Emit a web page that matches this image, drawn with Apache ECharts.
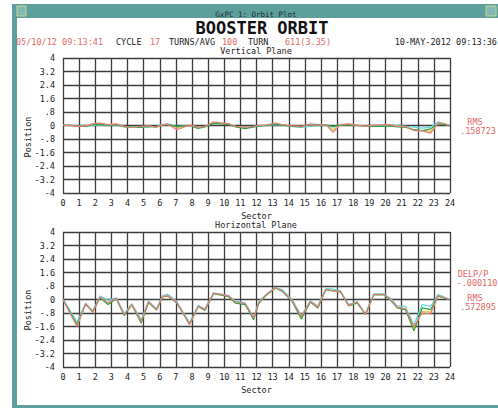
<!DOCTYPE html>
<html>
<head>
<meta charset="utf-8">
<script src="https://cdn.jsdelivr.net/npm/echarts@6/dist/echarts.min.js"></script>
<style>
  html, body { margin: 0; padding: 0; background: #fff; }
  #chart { width: 498px; height: 408px; }
</style>
</head>
<body>
<div id="chart"></div>
<script>
// BPM positions along the ring (sector units)
const sectors = [0, 0.4, 0.87, 1.4, 1.84, 2.3, 2.8, 3.3, 3.8, 4.27, 4.85, 5.3, 5.8, 6.17, 6.5, 7.05, 7.85, 8.38, 8.8, 9.34,
  9.8, 10.25, 10.7, 11.3, 11.82, 12.13, 12.55, 13.17, 13.6, 14.2, 14.78, 15.34, 15.8, 16.3, 16.75, 17.2, 17.72, 18.24, 18.76, 19.27,
  19.9, 20.3, 20.73, 21.24, 21.76, 22.28, 22.8, 23.27, 23.62, 23.95];

// vertical plane traces
const vertRed = [0, 0.02, -0.05, -0.02, 0.1, 0.15, 0.05, 0.1, -0.05, -0.12, -0.05, -0.02, -0.1, 0.05, 0.08, -0.25, 0.02, -0.1, -0.05, 0.22,
  0.15, 0.12, -0.05, -0.1, -0.05, 0, 0.02, 0.15, 0.05, -0.02, -0.05, 0.05, 0.02, 0.05, -0.4, 0.05, 0.1, 0.02, -0.05, 0.02,
  0.05, 0.05, -0.05, -0.05, -0.3, -0.32, -0.45, 0.15, 0.12, 0];
const vertGreen = [0.02, 0, -0.02, -0.05, 0.05, 0.05, 0.02, 0.05, -0.08, -0.1, -0.12, -0.05, -0.08, 0.02, 0.05, -0.05, 0, -0.18, -0.08, 0.12,
  0.1, 0.08, -0.08, -0.18, -0.08, -0.02, 0, 0.1, 0.02, -0.05, -0.08, 0.08, 0.05, 0.02, -0.05, 0.02, 0.05, 0, -0.02, -0.05,
  -0.05, -0.02, -0.08, -0.1, -0.25, -0.3, -0.2, 0.1, 0.08, -0.02];
const vertCyan = [0.02, 0.03, 0, -0.05, 0.02, 0, 0.02, 0.03, -0.05, -0.1, -0.08, -0.1, -0.05, 0.05, 0.1, -0.05, 0, -0.08, -0.05, 0.12,
  0.12, 0.1, -0.05, -0.1, -0.08, -0.05, -0.02, 0.05, 0.02, -0.05, -0.1, -0.05, -0.02, 0.03, -0.1, 0.05, 0.05, 0, -0.05, 0,
  0.02, 0.05, 0, -0.05, -0.1, -0.15, -0.1, 0.22, 0.12, 0.02];
const vertYellow = [0, 0.02, -0.03, -0.03, 0.08, 0.1, 0.04, 0.08, -0.06, -0.1, -0.08, -0.04, -0.08, 0.04, 0.06, -0.15, 0.02, -0.12, -0.06, 0.18,
  0.12, 0.1, -0.06, -0.12, -0.06, -0.02, 0.01, 0.12, 0.04, -0.03, -0.06, 0.06, 0.03, 0.04, -0.25, 0.04, 0.08, 0.01, -0.04, 0,
  0.02, 0.03, -0.06, -0.08, -0.28, -0.3, -0.35, 0.12, 0.1, 0];

// horizontal plane traces
const horRed = [0, -0.75, -1.6, -0.25, -0.75, 0.15, -0.2, 0.08, -0.9, -0.3, -1.3, -0.15, -0.6, 0.18, 0.22, -0.15, -1.5, -0.4, -0.6, 0.38,
  0.3, 0.22, -0.15, -0.25, -1.1, -0.2, 0.24, 0.7, 0.5, -0.05, -1.0, -0.12, -0.45, 0.6, 0.5, 0.45, -0.35, -0.15, -0.9, 0.3,
  0.3, 0.02, -0.45, -0.55, -1.6, -0.8, -0.85, 0.24, 0.12, 0];
const horGreen = [0, -0.7, -1.5, -0.28, -0.72, 0.1, -0.3, 0.05, -0.95, -0.32, -1.4, -0.18, -0.62, 0.15, 0.2, -0.2, -1.45, -0.42, -0.65, 0.35,
  0.25, 0.18, -0.22, -0.3, -1.2, -0.25, 0.2, 0.68, 0.48, -0.1, -1.15, -0.15, -0.5, 0.58, 0.52, 0.48, -0.38, -0.2, -0.88, 0.28,
  0.27, -0.02, -0.5, -0.6, -1.85, -0.5, -0.6, 0.2, 0.1, -0.02];
const horCyan = [0.02, -0.6, -1.35, -0.22, -0.7, 0.2, -0.05, 0.1, -0.82, -0.25, -1.2, -0.1, -0.55, 0.22, 0.32, -0.1, -1.4, -0.35, -0.55, 0.4,
  0.32, 0.25, -0.1, -0.2, -1.05, -0.15, 0.27, 0.72, 0.58, 0, -0.95, -0.08, -0.4, 0.65, 0.62, 0.5, -0.3, -0.12, -0.85, 0.33,
  0.33, 0.08, -0.38, -0.42, -1.5, -0.3, -0.4, 0.3, 0.16, 0.02];
const horYellow = [0, -0.72, -1.55, -0.26, -0.74, 0.12, -0.22, 0.06, -0.88, -0.28, -1.32, -0.16, -0.6, 0.17, 0.2, -0.17, -1.48, -0.4, -0.62, 0.36,
  0.28, 0.2, -0.17, -0.27, -1.12, -0.22, 0.22, 0.69, 0.5, -0.06, -1.05, -0.13, -0.47, 0.6, 0.52, 0.45, -0.36, -0.16, -0.9, 0.3,
  0.3, 0, -0.47, -0.58, -1.7, -0.7, -0.75, 0.22, 0.12, 0];

const yTickLabels = ['4', '3.2', '2.4', '1.6', '.8', '0', '-.8', '-1.6', '-2.4', '-3.2', '-4'];

const MONO = '"DejaVu Sans Mono", "Liberation Mono", monospace';
const RED = '#e06868';
const traceColors = { yellow: '#d6c64a', cyan: '#5fd3e0', green: '#2f9e3a', red: '#e88078' };

const chart = echarts.init(document.getElementById('chart'), null, { renderer: 'svg' });

function pairs(ys) {
  return sectors.map((x, i) => [x, ys[i]]);
}

function xAxisFor(gridIndex) {
  return {
    gridIndex: gridIndex,
    type: 'value',
    min: 0,
    max: 24,
    interval: 1,
    name: 'Sector',
    nameLocation: 'middle',
    nameGap: 18,
    nameTextStyle: { color: '#222', fontFamily: MONO, fontSize: 8.5 },
    axisLine: { show: false },
    axisTick: { show: false },
    axisLabel: { color: '#222', fontFamily: MONO, fontSize: 8.5, margin: 5 },
    splitLine: { show: true, lineStyle: { color: '#3c3c3c', width: 1.3 } }
  };
}

function yAxisFor(gridIndex) {
  return {
    gridIndex: gridIndex,
    type: 'value',
    min: -4,
    max: 4,
    interval: 0.8,
    axisLine: { show: false },
    axisTick: { show: false },
    axisLabel: {
      color: '#222', fontFamily: MONO, fontSize: 8.5, margin: 8,
      formatter: v => yTickLabels[Math.round((4 - v) / 0.8)]
    },
    splitLine: { show: true, lineStyle: { color: '#3c3c3c', width: 1.3 } }
  };
}

function traces(idx, y, g, c, r) {
  const mk = (name, data, color) => ({
    name: name,
    type: 'line',
    xAxisIndex: idx,
    yAxisIndex: idx,
    data: pairs(data),
    showSymbol: false,
    lineStyle: { color: color, width: 1.2 },
    animation: false
  });
  return [
    mk('yellow', y, traceColors.yellow),
    mk('cyan', c, traceColors.cyan),
    mk('green', g, traceColors.green),
    mk('red', r, traceColors.red)
  ];
}

function txt(x, y, text, opts) {
  return {
    type: 'text',
    x: x,
    y: y,
    rotation: (opts && opts.rotation) || 0,
    style: Object.assign({
      text: text,
      fill: '#222',
      font: '8.5px ' + MONO,
      textAlign: 'left',
      textVerticalAlign: 'middle'
    }, opts && opts.style)
  };
}

const option = {
  backgroundColor: '#fff',
  animation: false,
  grid: [
    { left: 63, right: 48, top: 58, height: 135 },
    { left: 63, right: 48, top: 232, height: 135 }
  ],
  xAxis: [xAxisFor(0), xAxisFor(1)],
  yAxis: [yAxisFor(0), yAxisFor(1)],
  series: [].concat(
    traces(0, vertYellow, vertGreen, vertCyan, vertRed),
    traces(1, horYellow, horGreen, horCyan, horRed)
  ),
  graphic: [
    // window frame
    { type: 'rect', z: -10, shape: { x: 12, y: 4, width: 486, height: 404 }, style: { fill: '#5d9f9d' } },
    { type: 'rect', z: -9, shape: { x: 17, y: 18, width: 481, height: 387 }, style: { fill: '#fff' } },
    { type: 'rect', z: -9, shape: { x: 17, y: 6, width: 9, height: 10 }, style: { fill: '#7fb8b5', stroke: '#c8d890', lineWidth: 1 } },
    { type: 'rect', z: -9, shape: { x: 486, y: 6, width: 10, height: 10 }, style: { fill: '#7fb8b5', stroke: '#c8d890', lineWidth: 1 } },
    txt(256, 14, 'GxPC 1: Orbit Plot', { style: { textAlign: 'center', font: '7.5px ' + MONO, fill: '#1a2a2a' } }),
    // headings
    txt(262, 28, 'BOOSTER ORBIT', { style: { textAlign: 'center', font: 'bold 17px ' + MONO, fill: '#111' } }),
    txt(16, 42, '05/10/12 09:13:41', { style: { fill: RED } }),
    txt(116, 42, 'CYCLE'),
    txt(150, 42, '17', { style: { fill: RED } }),
    txt(169, 42, 'TURNS/AVG'),
    txt(222, 42, '100', { style: { fill: RED } }),
    txt(248, 42, 'TURN'),
    txt(285, 42, '611(3.35)', { style: { fill: RED } }),
    txt(497, 42, '10-MAY-2012 09:13:36', { style: { textAlign: 'right' } }),
    txt(256, 51, 'Vertical Plane', { style: { textAlign: 'center' } }),
    txt(256, 225, 'Horizontal Plane', { style: { textAlign: 'center' } }),
    txt(28, 137, 'Position', { rotation: Math.PI / 2, style: { textAlign: 'center' } }),
    txt(28, 310, 'Position', { rotation: Math.PI / 2, style: { textAlign: 'center' } }),
    // side readouts
    txt(475, 122, 'RMS', { style: { textAlign: 'center', fill: RED } }),
    txt(478, 131, '.158723', { style: { textAlign: 'center', fill: RED } }),
    txt(473, 274, 'DELP/P', { style: { textAlign: 'center', fill: RED } }),
    txt(477, 283, '-.000110', { style: { textAlign: 'center', fill: RED } }),
    txt(475, 298, 'RMS', { style: { textAlign: 'center', fill: RED } }),
    txt(478, 307, '.572895', { style: { textAlign: 'center', fill: RED } })
  ]
};

chart.setOption(option);
</script>
</body>
</html>
